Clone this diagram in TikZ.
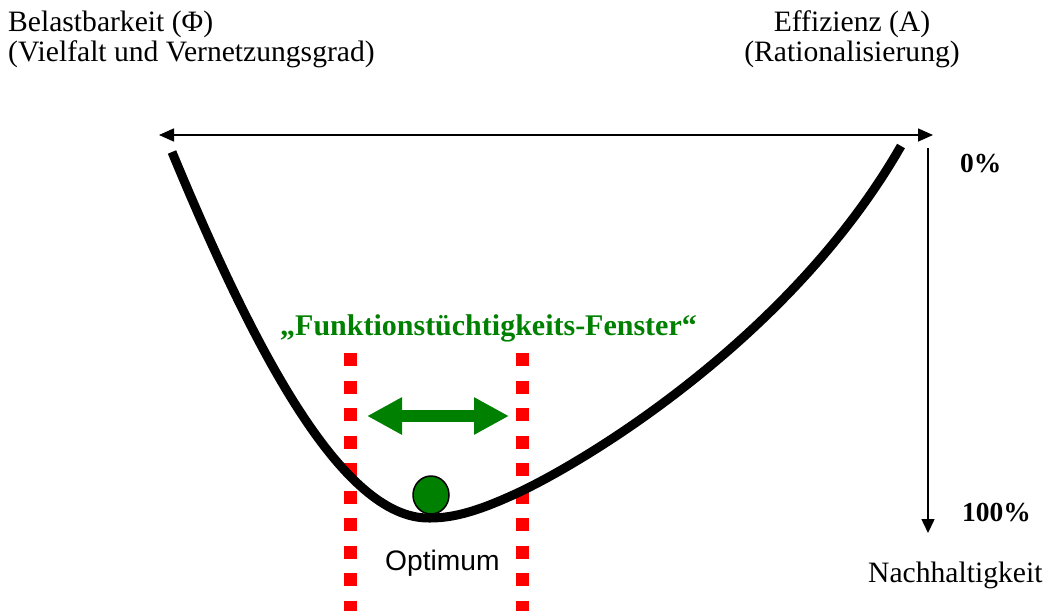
\documentclass[tikz,border=0pt]{standalone}
\usepackage{fontspec}
\setmainfont{Liberation Serif}
\newfontfamily\arialfont{Liberation Sans}
\usetikzlibrary{arrows.meta,shapes.geometric}
\definecolor{fgreen}{RGB}{0,128,0}
\definecolor{fred}{RGB}{255,0,0}
\begin{document}
\begin{tikzpicture}[x=1pt,y=-1pt,
  lbl/.style={inner sep=0pt, anchor=base west, font=\fontsize{29.6}{30}\selectfont},
  lblc/.style={inner sep=0pt, anchor=base, font=\fontsize{29.6}{30}\selectfont},
  pct/.style={inner sep=0pt, anchor=base west, font=\bfseries\fontsize{27.5}{30}\selectfont},
  window/.style={fred, line width=13pt, dash pattern=on 13pt off 14.5pt},
  axis/.style={black, line width=1.6pt}]
\useasboundingbox (0,0) rectangle (1048,611);

% texts
\node[lbl] (bel1) at (8,31.5) {Belastbarkeit (Φ)};
\node[lbl] (bel2) at (8,61.5) {(Vielfalt und Vernetzungsgrad)};
\node[lblc] (eff1) at (852,31.5) {Effizienz (A)};
\node[lblc] (eff2) at (852,61.5) {(Rationalisierung)};
\node[pct] (p0) at (960,172) {0\%};
\node[pct] (p100) at (962,521) {100\%};
\node[lbl] (nach) at (868,582) {Nachhaltigkeit};
\node[inner sep=0pt, anchor=base west, text=fgreen, font=\bfseries\fontsize{30}{30}\selectfont] (title) at (280,335) {„Funktionstüchtigkeits-Fenster“};
\node[inner sep=0pt, anchor=base west, font=\arialfont\fontsize{28.2}{30}\selectfont] (optlbl) at (385,570) {Optimum};

% axes
\coordinate (hl) at (159,135);
\coordinate (hr) at (933,135);
\coordinate (vt) at (928,148);
\coordinate (vb) at (928,533);
\draw[axis, {Triangle[length=15pt,width=13pt]}-{Triangle[length=15pt,width=13pt]}] (hl) -- (hr);
\draw[axis, line width=1.5pt, -{Triangle[length=14pt,width=13pt]}] (vt) -- (vb);

% window lines
\coordinate (wl1) at (350.5,353);
\coordinate (wl2) at (350.5,611);
\coordinate (wr1) at (522,353);
\coordinate (wr2) at (522,611);
\draw[window] (wl1) -- (wl2);
\draw[window] (wr1) -- (wr2);

% curve
\coordinate (cs) at (172,152);
\coordinate (cm) at (430,518);
\coordinate (cr) at (513,495);
\coordinate (ce) at (901,146);
\draw[line width=9pt] (cs) .. controls (250,340) and (340,520) .. (cm)
  .. controls (455,518) and (480,510) .. (cr)
  .. controls (580,465) and (790,340) .. (ce);

% green arrow
\coordinate (gl) at (367,416);
\coordinate (gr) at (509,416);
\draw[fgreen, line width=12pt, {Triangle[length=35pt,width=35pt]}-{Triangle[length=35pt,width=35pt]}] (gl) -- (gr);

% ball
\node[draw=black, line width=1.5pt, fill=fgreen, ellipse, inner sep=0pt, minimum width=36pt, minimum height=38pt] (ball) at (431,495) {};
\end{tikzpicture}
\end{document}
